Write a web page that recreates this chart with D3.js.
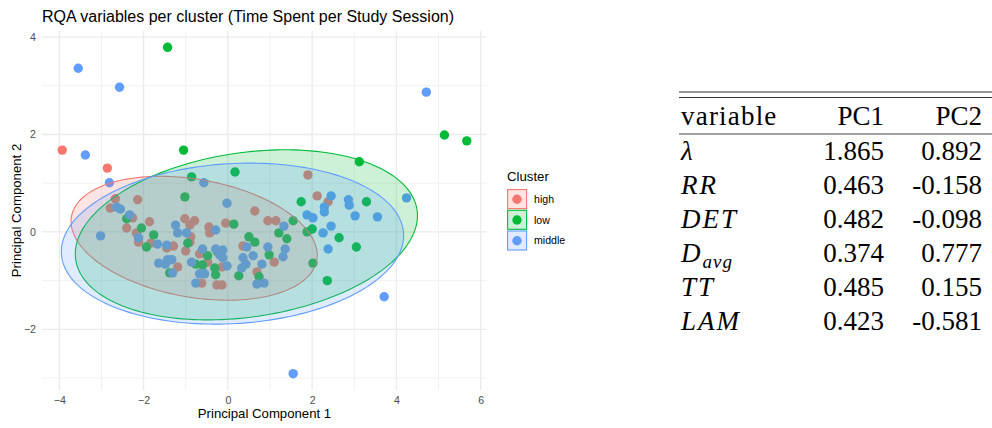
<!DOCTYPE html>
<html>
<head>
<meta charset="utf-8">
<script src="https://cdn.jsdelivr.net/npm/d3@7"></script>
<style>
body{margin:0;background:#fff}
svg{display:block}
</style>
</head>
<body>
<svg id="chart" width="992" height="428"></svg>
<script>
// clusters and their colours (ggplot hue palette)
var clusters=['high','low','middle']
var colors=['#F8766D','#00BA38','#619CFF']

// PCA scores: [PC1, PC2]
var high=[
    [-3.93,1.68],[-2.86,1.31],[-2.67,0.68],[-2.14,0.66],[-2.79,0.49],[-2.26,0.29],
    [-1.86,0.21],[-2.40,0.08],[-2.17,-0.02],[-2.12,-0.21],[-1.83,-0.23],[-1.45,-0.33],
    [-1.29,-0.29],[-1.19,-0.72],[-1.02,0.27],[-0.79,0.23],[-0.90,0.14],[-0.88,-0.10],
    [-0.90,-0.21],[-1.00,-0.39],[-0.45,0.10],[-0.43,-0.02],[-0.05,0.18],[-0.67,-0.45],
    [-0.48,-0.62],[-0.14,-0.72],[-0.62,-1.05],[-0.26,-1.09],[-0.14,-1.09],[0.64,0.43],
    [0.95,0.23],[1.14,0.23],[0.36,-0.29],[1.10,-0.62],[0.69,-0.82],[1.90,1.17],
    [2.12,0.74],[2.38,0.62]
]
var low=[
    [-1.43,3.79],[-1.05,1.68],[-0.86,1.13],[0.17,1.23],[-1.02,0.72],[-2.40,0.27],
    [-2.05,0.08],[-1.76,-0.06],[-1.93,-0.31],[-0.95,-0.23],[0.14,0.16],[-0.24,-0.41],
    [-0.48,-0.49],[-0.76,-0.66],[-0.60,-0.68],[-1.38,-0.84],[-0.31,-0.74],[-0.29,-0.88],
    [0.26,-0.90],[0.74,-0.92],[0.50,-0.10],[0.64,-0.21],[0.98,-0.47],[1.21,-0.02],
    [1.40,-0.14],[1.55,0.23],[1.74,0.62],[2.00,0.06],[1.88,0.00],[2.02,-0.64],
    [2.64,-0.12],[3.05,-0.31],[2.36,-1.00],[3.29,0.62],[3.12,1.44],[5.14,1.99],
    [5.67,1.87]
]
var middle=[
    [-3.55,3.36],[-2.57,2.97],[-3.38,1.58],[-2.81,1.01],[-2.64,0.51],[-2.55,0.47],
    [-2.33,0.35],[-3.02,-0.08],[-2.12,-0.12],[-1.67,-0.25],[-1.45,-0.27],[-1.24,0.14],
    [-1.19,-0.02],[-1.64,-0.64],[-1.43,-0.57],[-1.48,-0.66],[-1.31,-0.84],[-0.98,-0.02],
    [-0.29,0.04],[-0.60,-0.35],[-0.29,-0.35],[-0.12,-0.37],[-0.19,-0.47],[-0.12,-0.53],
    [-0.86,-0.62],[-1.33,-0.57],[-0.67,-0.86],[-0.55,-0.86],[-0.76,-1.05],[-0.02,-0.70],
    [0.36,-0.53],[0.43,-0.66],[0.45,-0.31],[0.60,-0.49],[0.81,-0.66],[0.33,-0.74],
    [0.69,-1.07],[0.86,-1.05],[0.95,-0.31],[1.36,-0.35],[1.31,-0.51],[1.33,0.12],
    [-0.02,0.59],[-0.57,1.01],[1.88,0.35],[2.02,0.29],[2.26,-0.02],[2.45,0.12],
    [2.29,0.51],[2.29,0.41],[2.45,0.74],[2.86,0.66],[2.88,0.55],[3.02,0.33],
    [3.55,0.31],[2.38,-0.35],[4.24,0.70],[4.71,2.87],[3.71,-1.33],[1.55,-2.91]
]

// confidence ellipses per cluster: centre and two conjugate half axes (data units)
var ellipseCentre=[[-0.80,-0.13],[0.44,-0.06],[0.11,-0.24]]
var ellipseU=[[2.91,-0.45],[4.05,0.51],[4.06,0.21]]
var ellipseV=[[-0.25,-1.19],[0.28,-1.67],[0.11,-1.64]]

var xTicks=[-4,-2,0,2,4,6]
var yTicks=[-2,0,2,4]

// loadings table
var tableHead=['variable','PC1','PC2']
var varNames=['λ','RR','DET','D','TT','LAM']
var varSubs=['','','','avg','','']
var pc1=[1.865,0.463,0.482,0.374,0.485,0.423]
var pc2=[0.892,-0.158,-0.098,0.777,0.155,-0.581]

display()

function display()
{
    var svg=d3.select('#chart')
    var sans='"Liberation Sans", Arial, Helvetica, sans-serif'
    var serif='"Liberation Serif", "Times New Roman", serif'
    var panel={left:42,right:487,top:31,bottom:390}
    var series=[high,low,middle]
    var all=d3.merge(series)

    // ggplot style 5% expansion
    var xe=d3.extent(all,d=>d[0]), ye=d3.extent(all,d=>d[1])
    var xp=(xe[1]-xe[0])*0.05, yp=(ye[1]-ye[0])*0.05
    var x=d3.scaleLinear().domain([xe[0]-xp,xe[1]+xp]).range([panel.left,panel.right])
    var y=d3.scaleLinear().domain([ye[0]-yp,ye[1]+yp]).range([panel.bottom,panel.top])

    // grid
    var grid=svg.append('g')
    var xMinor=d3.range(Math.ceil(x.domain()[0]),x.domain()[1]).filter(v=>v%2!=0)
    var yMinor=d3.range(Math.ceil(y.domain()[0]),y.domain()[1]).filter(v=>v%2!=0)
    grid.selectAll('.xminor').data(xMinor).join('line')
        .attr('x1',d=>x(d)).attr('x2',d=>x(d))
        .attr('y1',panel.top).attr('y2',panel.bottom)
        .attr('stroke','#EBEBEB').attr('stroke-width',0.7)
    grid.selectAll('.yminor').data(yMinor).join('line')
        .attr('y1',d=>y(d)).attr('y2',d=>y(d))
        .attr('x1',panel.left).attr('x2',panel.right)
        .attr('stroke','#EBEBEB').attr('stroke-width',0.7)
    grid.selectAll('.xmajor').data(xTicks).join('line')
        .attr('x1',d=>x(d)).attr('x2',d=>x(d))
        .attr('y1',panel.top).attr('y2',panel.bottom)
        .attr('stroke','#EBEBEB').attr('stroke-width',1.3)
    grid.selectAll('.ymajor').data(yTicks).join('line')
        .attr('y1',d=>y(d)).attr('y2',d=>y(d))
        .attr('x1',panel.left).attr('x2',panel.right)
        .attr('stroke','#EBEBEB').attr('stroke-width',1.3)

    // axes, ticks hidden like theme_minimal
    var xAxis=svg.append('g').attr('transform',`translate(0,${panel.bottom})`)
        .call(d3.axisBottom(x).tickValues(xTicks).tickSize(0).tickPadding(6))
    var yAxis=svg.append('g').attr('transform',`translate(${panel.left},0)`)
        .call(d3.axisLeft(y).tickValues(yTicks).tickSize(0).tickPadding(6))
    ;[xAxis,yAxis].forEach(a=>{
        a.select('.domain').remove()
        a.selectAll('text').attr('fill','#4D4D4D').style('font-family',sans).style('font-size','10.6px')
    })

    // points first, ellipses drawn over them
    series.forEach((s,i)=>{
        svg.append('g').selectAll('circle')
            .data(s)
            .join('circle')
            .attr('cx',d=>x(d[0]))
            .attr('cy',d=>y(d[1]))
            .attr('r',4.7)
            .attr('fill',colors[i])
    })
    var line=d3.line().x(d=>x(d[0])).y(d=>y(d[1])).curve(d3.curveLinearClosed)
    clusters.forEach((c,i)=>{
        var pts=d3.range(0,2*Math.PI,Math.PI/90).map(t=>[
            ellipseCentre[i][0]+ellipseU[i][0]*Math.cos(t)+ellipseV[i][0]*Math.sin(t),
            ellipseCentre[i][1]+ellipseU[i][1]*Math.cos(t)+ellipseV[i][1]*Math.sin(t)
        ])
        svg.append('path')
            .attr('d',line(pts))
            .attr('fill',colors[i])
            .attr('fill-opacity',0.2)
            .attr('stroke',colors[i])
            .attr('stroke-width',1.1)
    })

    // titles
    svg.append('text').attr('x',panel.left).attr('y',21.5)
        .style('font-family',sans).style('font-size','16px').text('RQA variables per cluster (Time Spent per Study Session)')
    svg.append('text').attr('x',(panel.left+panel.right)/2).attr('y',418).attr('text-anchor','middle')
        .style('font-family',sans).style('font-size','13.2px').text('Principal Component 1')
    svg.append('text').attr('transform',`translate(21,${(panel.top+panel.bottom)/2}) rotate(-90)`).attr('text-anchor','middle')
        .style('font-family',sans).style('font-size','13.2px').text('Principal Component 2')

    // legend
    var lg=svg.append('g').attr('transform','translate(507,168)')
    lg.append('text').attr('y',13).style('font-family',sans).style('font-size','13.2px').text('Cluster')
    var key=lg.selectAll('.key').data(clusters).join('g')
        .attr('transform',(d,i)=>`translate(0,${21+i*20.7})`)
    key.append('circle').attr('cx',10).attr('cy',10.3).attr('r',4.7).attr('fill',(d,i)=>colors[i])
    key.append('rect').attr('x',0.6).attr('y',0.6).attr('width',19).attr('height',19)
        .attr('fill',(d,i)=>colors[i]).attr('fill-opacity',0.2)
        .attr('stroke',(d,i)=>colors[i]).attr('stroke-width',1.1)
    key.append('text').attr('x',27).attr('y',14).style('font-family',sans).style('font-size','10.6px').text(d=>d)

    // loadings table
    var tb=svg.append('g').style('font-family',serif).style('font-size','27px').attr('fill','#000')
    var tl=679, tr=992, c1=884, c2=982
    ;[92,97.5].forEach(v=>tb.append('line').attr('x1',tl).attr('x2',tr).attr('y1',v).attr('y2',v).attr('stroke','#333').attr('stroke-width',1.2))
    tb.append('line').attr('x1',tl).attr('x2',tr).attr('y1',134).attr('y2',134).attr('stroke','#333').attr('stroke-width',0.9)
    tb.append('text').attr('x',681).attr('y',125).style('letter-spacing','1.2px').text(tableHead[0])
    tb.append('text').attr('x',c1).attr('y',125).attr('text-anchor','end').text(tableHead[1])
    tb.append('text').attr('x',c2).attr('y',125).attr('text-anchor','end').text(tableHead[2])
    var rowY=d3.scaleLinear().domain([0,1]).range([160,194])
    varNames.forEach((v,i)=>{
        var t=tb.append('text').attr('x',681).attr('y',rowY(i)).style('font-style','italic').style('letter-spacing',v=='λ'?'0':'2px')
        t.append('tspan').text(v)
        if(varSubs[i]) t.append('tspan').attr('dy',6).style('font-size','19px').style('letter-spacing','1px').text(varSubs[i])
        tb.append('text').attr('x',c1).attr('y',rowY(i)).attr('text-anchor','end').text(pc1[i].toFixed(3))
        tb.append('text').attr('x',c2).attr('y',rowY(i)).attr('text-anchor','end').text(pc2[i].toFixed(3))
    })
}
</script>
</body>
</html>
